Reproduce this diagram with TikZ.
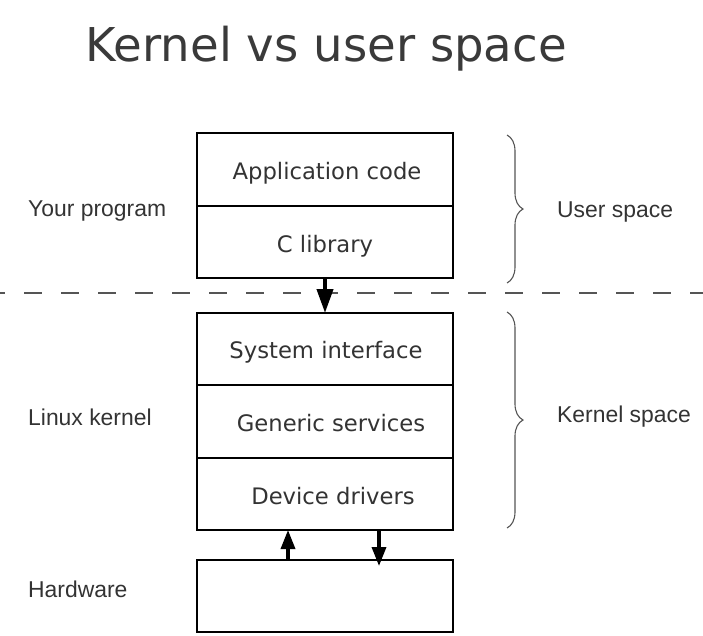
\documentclass[tikz,border=0pt]{standalone}
\usepackage{fontspec}
\setmainfont{DejaVu Sans}
\newfontfamily\sidefont{Liberation Sans}
\usetikzlibrary{arrows.meta,decorations.pathreplacing,calc}
\definecolor{txt}{HTML}{333333}
\definecolor{ttl}{HTML}{3A3A3A}
\definecolor{brc}{HTML}{555555}
\begin{document}
\begin{tikzpicture}[x=1pt,y=-1pt,
  layer/.style={draw=black,line width=1.6pt,minimum width=256pt,inner sep=0pt,outer sep=0pt},
  boxtext/.style={anchor=base,text=txt,font=\fontsize{22.7}{26}\selectfont,inner sep=0pt},
  sidetext/.style={anchor=base west,text=txt,font=\sidefont\fontsize{22.9}{26}\selectfont,inner sep=0pt},
  arr/.style={line width=3.4pt,-{Triangle[length=19pt,width=14pt]}},
  bigarr/.style={line width=4pt,-{Triangle[length=24pt,width=16pt]}},
  bracedeco/.style={draw=brc,line width=1.1pt,decorate,decoration={brace,amplitude=16pt}},
  divider/.style={draw=brc,line width=1.4pt,dash pattern=on 18pt off 19pt,dash phase=13pt}]
\useasboundingbox (0,0) rectangle (703,635);
% title
\node[anchor=base west,text=ttl,font=\fontsize{46.6}{50}\selectfont,inner sep=0pt] (title) at (85.5,61) {Kernel vs user space};
% user space boxes
\node[layer,minimum height=73pt] (app) at (325,169.5) {};
\node[layer,minimum height=72pt] (clib) at (325,242) {};
% kernel boxes
\node[layer,minimum height=72pt] (sysi) at (325,349) {};
\node[layer,minimum height=73pt] (gen) at (325,421.5) {};
\node[layer,minimum height=72pt] (dev) at (325,494) {};
% hardware
\node[layer,minimum height=72pt] (hw) at (325,596) {};
% box texts
\node[boxtext] (tapp) at (327,179) {Application code};
\node[boxtext] (tclib) at (325,252) {C library};
\node[boxtext] (tsys) at (326,358) {System interface};
\node[boxtext] (tgen) at (331,431) {Generic services};
\node[boxtext] (tdev) at (333,504) {Device drivers};
% side labels
\node[sidetext] (yp) at (28,216.5) {Your program};
\node[sidetext] (lk) at (28,425) {Linux kernel};
\node[sidetext] (hwl) at (28,597) {Hardware};
\node[sidetext] (us) at (557,217) {User space};
\node[sidetext] (ks) at (557,422) {Kernel space};
% dashed divider
\coordinate (dl) at (0,293);
\coordinate (dr) at (703,293);
\draw[divider] (dl) -- (dr);
% braces
\coordinate (ub1) at (507,135);
\coordinate (ub2) at (507,283);
\coordinate (kb1) at (507,312);
\coordinate (kb2) at (507,528);
\draw[bracedeco] (ub1) -- (ub2);
\draw[bracedeco] (kb1) -- (kb2);
% arrows
\draw[bigarr] (clib.south) -- (sysi.north);
\coordinate (upx) at (288,0);
\coordinate (dnx) at (379,0);
\coordinate (dnend) at (379,566);
\draw[arr] (hw.north -| upx) -- (dev.south -| upx);
\draw[arr] (dev.south -| dnx) -- (dnend);
\end{tikzpicture}
\end{document}
